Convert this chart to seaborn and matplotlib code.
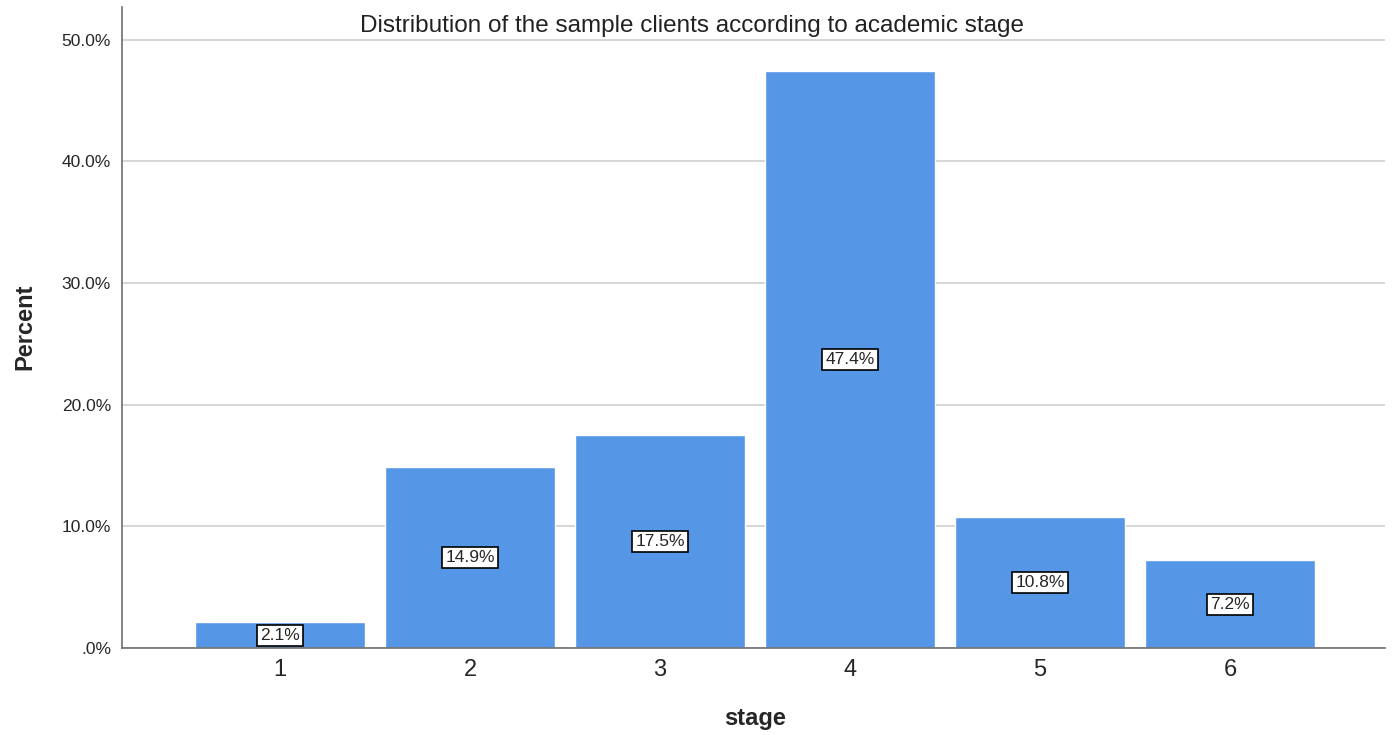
import pandas as pd
import matplotlib.pyplot as plt
import seaborn as sns

# Data
stages = ['1', '2', '3', '4', '5', '6']
percents = [2.1, 14.9, 17.5, 47.4, 10.8, 7.2]

df = pd.DataFrame({'stage': stages, 'Percent': percents})

sns.set_style('white')
plt.rcParams['font.family'] = ['Liberation Sans', 'DejaVu Sans']

fig = plt.figure(figsize=(13.95, 7.35), dpi=100)
ax = fig.add_axes([122 / 1395, 1 - 648 / 735, (1385 - 122) / 1395, (648 - 7) / 735])

sns.barplot(data=df, x='stage', y='Percent', color='#5596E6', saturation=1,
            width=0.895, ax=ax, zorder=2)

ax.set_xlim(-0.832, 5.816)
ax.set_ylim(0, 52.7)
ax.set_yticks([0, 10, 20, 30, 40, 50])
ax.set_yticklabels(['.0%', '10.0%', '20.0%', '30.0%', '40.0%', '50.0%'], fontsize=12.5)
ax.tick_params(axis='x', labelsize=17, length=0, pad=8)
ax.tick_params(axis='y', length=0, pad=8)
ax.grid(axis='y', color='#d0d0d0', linewidth=1.2, zorder=0)
ax.set_axisbelow(True)

for side in ['top', 'right']:
    ax.spines[side].set_visible(False)
for side in ['left', 'bottom']:
    ax.spines[side].set_color('#707070')
    ax.spines[side].set_linewidth(1.2)

ax.set_xlabel('stage', fontsize=17, fontweight='bold', va='center')
ax.set_ylabel('Percent', fontsize=17, fontweight='bold', va='center')
ax.xaxis.set_label_coords((755 - 122) / 1263, -(719 - 648) / 641)
ax.yaxis.set_label_coords(-(122 - 25) / 1263, (648 - 327) / 641)

# Value labels in the middle of each bar
for i, v in enumerate(percents):
    ax.text(i, v / 2, f'{v:.1f}%', ha='center', va='center', fontsize=12.5, zorder=5,
            bbox=dict(boxstyle='square,pad=0.18', facecolor='white', edgecolor='black', linewidth=1.2))

fig.text(692 / 1395, 1 - 26 / 735, 'Distribution of the sample clients according to academic stage',
         ha='center', va='center', fontsize=17.5, color='#222222')

fig.savefig('out.png', dpi=100)
